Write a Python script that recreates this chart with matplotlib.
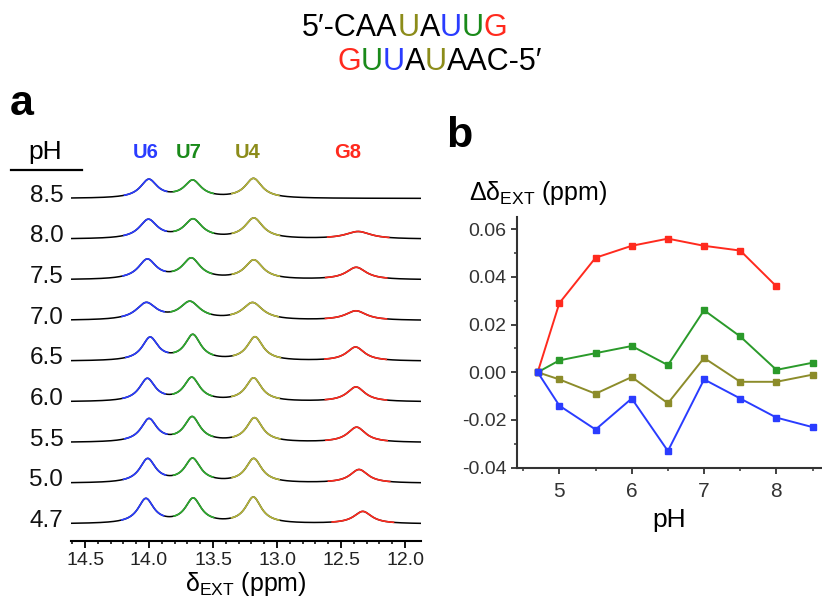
import matplotlib.pyplot as plt
import numpy as np

plt.rcParams['font.family'] = ['Liberation Sans', 'DejaVu Sans']
plt.rcParams['mathtext.default'] = 'regular'

# Data
ph = [4.7, 5.0, 5.5, 6.0, 6.5, 7.0, 7.5, 8.0, 8.5]
ph_labels = ['4.7', '5.0', '5.5', '6.0', '6.5', '7.0', '7.5', '8.0', '8.5']

# chemical shift change vs pH (panel b)
dd_g8 = [0.0, 0.029, 0.048, 0.053, 0.056, 0.053, 0.051, 0.036]
dd_u7 = [0.0, 0.005, 0.008, 0.011, 0.003, 0.026, 0.015, 0.001, 0.004]
dd_u4 = [0.0, -0.003, -0.009, -0.002, -0.013, 0.006, -0.004, -0.004, -0.001]
dd_u6 = [0.0, -0.014, -0.024, -0.011, -0.033, -0.003, -0.011, -0.019, -0.023]

# imino peaks at pH 4.7 (ppm)
base_u6, base_u7, base_u4, base_g8 = 14.025, 13.655, 13.185, 12.33

# peak heights (spectrum offset units) and half widths (ppm) per pH
h_u6 = [0.60, 0.58, 0.56, 0.55, 0.56, 0.41, 0.48, 0.46, 0.45]
h_u7 = [0.60, 0.58, 0.60, 0.57, 0.62, 0.43, 0.50, 0.46, 0.42]
h_u4 = [0.64, 0.59, 0.59, 0.57, 0.58, 0.42, 0.47, 0.50, 0.48]
h_g8 = [0.30, 0.33, 0.37, 0.36, 0.34, 0.23, 0.30, 0.18, 0.0]
w_peak = [0.075, 0.075, 0.075, 0.075, 0.075, 0.095, 0.085, 0.085, 0.08]
w_g8 = [0.085, 0.085, 0.085, 0.085, 0.085, 0.10, 0.095, 0.12, 0.1]

c_red = '#ff2a1e'
c_blue = '#2a3cff'
c_green_lab, c_green_spec, c_green_b = '#1a8a1a', '#2eab2e', '#2a9a2a'
c_olive_lab, c_olive_spec, c_olive_b = '#8c8c1a', '#b5b53a', '#8c8c2a'

fig = plt.figure(figsize=(8.22, 6.0), dpi=100)

# overlay in pixel coordinates for free text
top = fig.add_axes([0, 0, 1, 1], zorder=5)
top.set_xlim(0, 822)
top.set_ylim(600, 0)
top.axis('off')

# ---- panel a: stacked spectra
ax = fig.add_axes([71 / 822, 59 / 600, 350 / 822, 371 / 600])
ppm = np.linspace(14.61, 11.875, 1400)


def lorentz(x, p, h, w):
    return h * w ** 2 / ((x - p) ** 2 + w ** 2)


for i in range(len(ph)):
    p6 = base_u6 + dd_u6[i]
    p7 = base_u7 + dd_u7[i]
    p4 = base_u4 + dd_u4[i]
    p8 = base_g8 + (dd_g8[i] if i < len(dd_g8) else 0)
    spec = (lorentz(ppm, p6, h_u6[i], w_peak[i]) + lorentz(ppm, p7, h_u7[i], w_peak[i])
            + lorentz(ppm, p4, h_u4[i], w_peak[i]) + lorentz(ppm, p8, h_g8[i], w_g8[i]))
    y = i + spec
    ax.plot(ppm, y, color='black', lw=1.1)
    windows = [(p6 + 0.19, p6 - 0.14, c_blue), (p7 + 0.15, p7 - 0.16, c_green_spec),
               (p4 + 0.17, p4 - 0.2, c_olive_spec)]
    if h_g8[i] > 0:
        windows.append((p8 + 0.24, p8 - 0.24, c_red))
    for hi, lo, c in windows:
        m = (ppm <= hi) & (ppm >= lo)
        ax.plot(ppm[m], y[m], color=c, lw=1.2)
    ax.text(14.67, i + 0.07, ph_labels[i], ha='right', va='center', fontsize=17.5,
            color='#111111', clip_on=False)

ax.set_xlim(14.61, 11.875)
ax.set_ylim(-0.42, 8.7)
for s in ['left', 'right', 'top']:
    ax.spines[s].set_visible(False)
ax.spines['bottom'].set_linewidth(1.5)
ax.set_yticks([])
ax.set_xticks([14.5, 14.0, 13.5, 13.0, 12.5, 12.0])
ax.set_xticklabels(['14.5', '14.0', '13.5', '13.0', '12.5', '12.0'])
ax.set_xticks(np.arange(12.0, 14.61, 0.1), minor=True)
ax.tick_params(axis='x', which='major', direction='out', length=5, width=1.3,
               labelsize=14, labelcolor='#222222', pad=3)
ax.tick_params(axis='x', which='minor', direction='out', length=2.5, width=1.1)
ax.set_xlabel(r'$\delta_{EXT}$ (ppm)', fontsize=18, labelpad=1)

top.text(45, 152, 'pH', ha='center', va='center', fontsize=19)
top.plot([11, 82], [170, 170], color='black', lw=1.6)
top.text(146, 153, 'U6', ha='center', va='center', fontsize=14.5, fontweight='bold', color=c_blue)
top.text(189, 153, 'U7', ha='center', va='center', fontsize=14.5, fontweight='bold', color=c_green_lab)
top.text(248, 153, 'U4', ha='center', va='center', fontsize=14.5, fontweight='bold', color=c_olive_lab)
top.text(348, 153, 'G8', ha='center', va='center', fontsize=14.5, fontweight='bold', color=c_red)
top.text(10, 115, 'a', ha='left', va='baseline', fontsize=31, fontweight='bold')
top.text(446, 147, 'b', ha='left', va='baseline', fontsize=31, fontweight='bold')

# ---- sequence title with coloured bases
def rainbow(x, y, parts, size=22):
    t = top.text(x, y, parts[0][0], color=parts[0][1], fontsize=size, va='baseline')
    for s, c in parts[1:]:
        t = top.annotate(s, xycoords=t, xy=(1, 0), va='bottom', color=c, fontsize=size)


k = 'black'
rainbow(302, 36, [("5′-CAA", k), ('U', c_olive_lab), ('A', k), ('U', c_blue),
                  ('U', c_green_lab), ('G', c_red)])
rainbow(337, 70, [('G', c_red), ('U', c_green_lab), ('U', c_blue), ('A', k),
                  ('U', c_olive_lab), ("AAC-5′", k)])

# ---- panel b: delta delta vs pH
bx = fig.add_axes([516.7 / 822, 132.3 / 600, 305.3 / 822, 251 / 600])
bx.plot(ph[:len(dd_g8)], dd_g8, color=c_red, marker='s', ms=4, lw=1.4)
bx.plot(ph, dd_u7, color=c_green_b, marker='s', ms=4, lw=1.4)
bx.plot(ph, dd_u4, color=c_olive_b, marker='s', ms=4, lw=1.4)
bx.plot(ph, dd_u6, color=c_blue, marker='s', ms=4, lw=1.4)
bx.set_xlim(4.41, 8.63)
bx.set_ylim(-0.04, 0.0652)
bx.set_xticks([5, 6, 7, 8])
bx.set_xticks(np.arange(4.5, 8.6, 0.5), minor=True)
bx.set_yticks([-0.04, -0.02, 0.0, 0.02, 0.04, 0.06])
bx.set_yticklabels(['-0.04', '-0.02', '0.00', '0.02', '0.04', '0.06'])
bx.set_yticks(np.arange(-0.03, 0.061, 0.02), minor=True)
for s in ['right', 'top']:
    bx.spines[s].set_visible(False)
for s in ['left', 'bottom']:
    bx.spines[s].set_linewidth(1.5)
    bx.spines[s].set_color('#333333')
bx.tick_params(which='major', direction='out', length=4, width=1.3, color='#333333',
               labelsize=14, labelcolor='#333333')
bx.tick_params(which='minor', direction='out', length=2.5, width=1.1, color='#333333')
bx.tick_params(axis='x', labelsize=15, pad=6)
bx.set_xlabel('pH', fontsize=19, labelpad=5)
top.text(469, 193, r'Δδ$_{EXT}$ (ppm)', ha='left', va='center', fontsize=18)

fig.savefig('out.png', dpi=100)
